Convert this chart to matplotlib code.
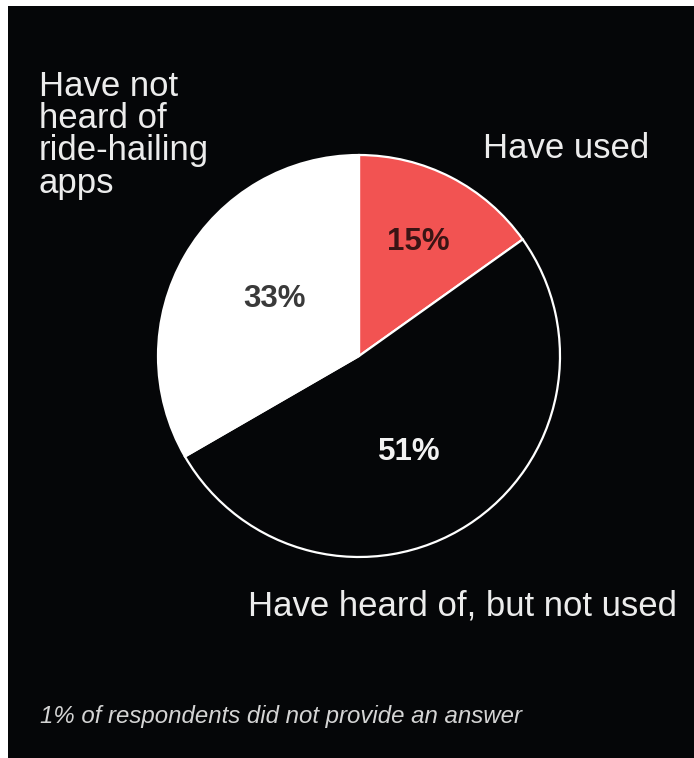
import matplotlib.pyplot as plt
import numpy as np
from matplotlib.patches import Rectangle

# Données
categories = ['Have used', 'Have heard of, but not used', 'Have not heard of ride-hailing apps']
values = [15, 51, 33]
slice_colors = ['#f25352', '#050608', '#ffffff']
pct_colors = ['#3a1414', '#f2f2f2', '#3a3a3a']
footnote = '1% of respondents did not provide an answer'

W, H = 694, 758
fig = plt.figure(figsize=(W / 100, H / 100), dpi=100, facecolor='white')

# fond noir (petite marge blanche en haut et à gauche)
fig.patches.append(Rectangle((8 / W, 0), 1, 1 - 6 / H, transform=fig.transFigure,
                             facecolor='#050608', edgecolor='none', zorder=-5))

def fx(px):
    return px / W

def fy(py):
    return 1 - py / H

# camembert : centre (359, 356), rayon ~200 px
cx, cy, r = 359, 356, 203
ax = fig.add_axes([fx(cx - r), fy(cy + r), 2 * r / W, 2 * r / H])
ax.set_zorder(2)
ax.set_facecolor('none')
wedges, _ = ax.pie(values, colors=slice_colors, startangle=90, counterclock=False,
                   radius=1, wedgeprops=dict(edgecolor='white', linewidth=1.6))
ax.set_xlim(-1.01, 1.01)
ax.set_ylim(-1.01, 1.01)
ax.set_aspect('equal')
ax.axis('off')

label_r = [0.64, 0.54, 0.51]
label_nudge = [0, -5, -4]
for w, v, col, rr, dn in zip(wedges, values, pct_colors, label_r, label_nudge):
    ang = np.deg2rad((w.theta1 + w.theta2) / 2 + dn)
    ax.text(rr * np.cos(ang), rr * np.sin(ang), f'{v}%', ha='center', va='center',
            fontsize=22.5, color=col, family='Liberation Sans', fontweight='bold')

txt = dict(color='#ececec', family='Liberation Sans', fontsize=25)
fig.text(fx(483), fy(148), 'Have used', ha='left', va='center', **txt)
fig.text(fx(248), fy(606), 'Have heard of, but not used', ha='left', va='center', **txt)
fig.text(fx(39), fy(70), 'Have not\nheard of\nride-hailing\napps', ha='left', va='top',
         linespacing=0.97, **txt)

fig.text(fx(40), fy(717), footnote, ha='left', va='center', color='#d4d4d4',
         family='Liberation Sans', fontsize=17.3, style='italic')

fig.savefig('out.png', dpi=100, facecolor=fig.get_facecolor())
